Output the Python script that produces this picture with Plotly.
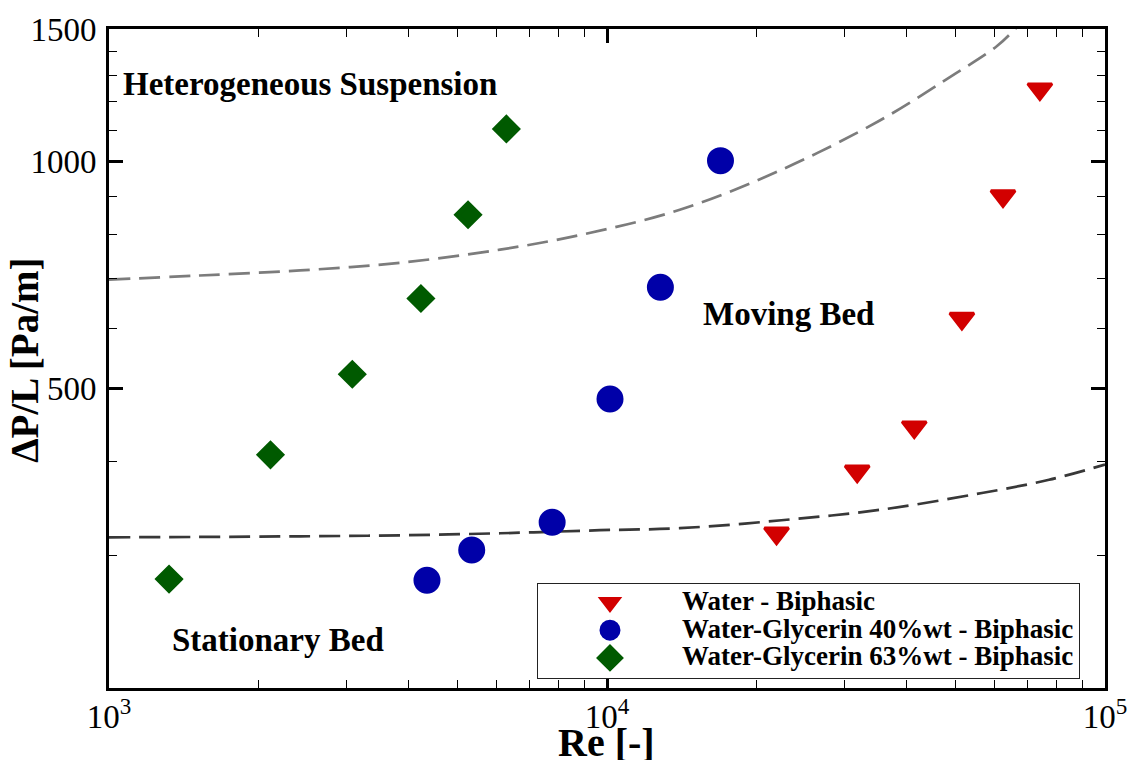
import plotly.graph_objects as go

# ---------------- data ----------------
re_water = [21900, 31800, 41400, 51600, 62400, 74000]
dp_water = [321, 388, 444, 619, 900, 1248]

re_g40 = [4350, 5350, 7760, 10140, 12800, 16900]
dp_g40 = [278, 305, 332, 484, 681, 1003]

re_g63 = [1320, 2110, 3080, 4230, 5260, 6280]
dp_g63 = [279, 408, 522, 658, 850, 1105]

# regime boundary curves
re_upper = [1000, 1520, 2420, 3840, 6100, 8830, 14000, 22300, 35300, 48200, 60700, 66000, 70700]
dp_upper = [697, 706, 717, 734, 764, 799, 863, 974, 1134, 1288, 1424, 1500, 1570]

re_lower = [1000, 2420, 3840, 6100, 9680, 14000, 22400, 35500, 56600, 77200, 100000]
dp_lower = [317, 318, 319, 321, 324, 326, 334, 345, 363, 378, 396]

x_major = [1e3, 1e4, 1e5]
x_major_text = ["10<sup>3</sup>", "10<sup>4</sup>", "10<sup>5</sup>"]
x_minor = [2e3, 3e3, 4e3, 5e3, 6e3, 7e3, 8e3, 9e3, 2e4, 3e4, 4e4, 5e4, 6e4, 7e4, 8e4, 9e4]
y_major = [500, 1000, 1500]
y_major_text = ["500", "1000", "1500"]
y_minor = [300, 400, 600, 700, 800, 900, 1100, 1200, 1300, 1400]

series_names = ["Water - Biphasic",
                "Water-Glycerin 40%wt - Biphasic",
                "Water-Glycerin 63%wt - Biphasic"]

region_labels = ["Heterogeneous Suspension", "Moving Bed", "Stationary Bed"]

FONT = "Liberation Serif, Times New Roman, serif"

fig = go.Figure()

fig.add_trace(go.Scatter(
    x=re_upper, y=dp_upper, mode="lines", showlegend=False, hoverinfo="skip",
    line=dict(color="#7c7c7c", width=2.7, dash="21px,9px", shape="spline", smoothing=1.0)))
fig.add_trace(go.Scatter(
    x=re_lower, y=dp_lower, mode="lines", showlegend=False, hoverinfo="skip",
    line=dict(color="#383838", width=2.7, dash="21px,9px", shape="spline", smoothing=1.0)))

def lg(t):
    return '<span style="font-size:27px">' + t + '</span>'

C_WATER, C_G40, C_G63 = "#d20000", "#0000a8", "#005a00"

fig.add_trace(go.Scatter(
    x=re_water, y=dp_water, mode="markers", name=lg(series_names[0]),
    marker=dict(symbol="triangle-down", size=21, color=C_WATER,
                line=dict(width=3, color=C_WATER))))
fig.add_trace(go.Scatter(
    x=re_g40, y=dp_g40, mode="markers", name=lg(series_names[1]),
    marker=dict(symbol="circle", size=22, color=C_G40,
                line=dict(width=5, color=C_G40))))
fig.add_trace(go.Scatter(
    x=re_g63, y=dp_g63, mode="markers", name=lg(series_names[2]),
    marker=dict(symbol="diamond", size=17, color=C_G63,
                line=dict(width=5, color=C_G63))))

axis_common = dict(
    ticks="inside", ticklen=14, tickwidth=2.5, tickcolor="black",
    showline=True, linewidth=3, linecolor="black", mirror="allticks",
    showgrid=False, zeroline=False,
    tickfont=dict(family=FONT, size=33, color="black"),
)

fig.update_xaxes(
    type="log", range=[3, 5], tickmode="array", tickvals=x_major, ticktext=x_major_text,
    ticklabelstandoff=-3,
    minor=dict(tickmode="array", tickvals=x_minor, ticks="inside", ticklen=8,
               tickwidth=1, tickcolor="black", showgrid=False),
    **axis_common)
fig.update_yaxes(
    type="log", range=[2.30103, 3.176091], tickmode="array", tickvals=y_major, ticktext=y_major_text,
    ticklabelstandoff=3,
    minor=dict(tickmode="array", tickvals=y_minor, ticks="inside", ticklen=8,
               tickwidth=1, tickcolor="black", showgrid=False),
    **axis_common)

ann_font = dict(family=FONT, size=33, color="black", weight="bold")
annotations = [
    dict(text=region_labels[0], x=0.012, y=0.917, xanchor="left", yanchor="middle"),
    dict(text=region_labels[1], x=0.5944, y=0.567, xanchor="left", yanchor="middle"),
    dict(text=region_labels[2], x=0.0612, y=0.0724, xanchor="left", yanchor="middle"),
]
for a in annotations:
    a.update(xref="paper", yref="paper", showarrow=False, font=ann_font)

annotations.append(dict(text="\u0394P/L [Pa/m]", xref="paper", yref="paper",
                        x=-0.0855, y=0.4977, xanchor="center", yanchor="middle",
                        textangle=-90, showarrow=False,
                        font=dict(family=FONT, size=39, color="black", weight="bold")))
annotations.append(dict(text="Re [-]", xref="paper", yref="paper",
                        x=0.4995, y=-0.082, xanchor="center", yanchor="middle",
                        height=36, valign="middle",
                        showarrow=False,
                        font=dict(family=FONT, size=40, color="black", weight="bold")))

fig.update_layout(
    width=1140, height=762,
    margin=dict(l=109, r=35, t=25, b=74),
    paper_bgcolor="white", plot_bgcolor="white",
    font=dict(family=FONT, color="black"),
    annotations=annotations,
    legend=dict(
        x=0.4297, y=0.1599, xanchor="left", yanchor="top",
        bgcolor="white", bordercolor="#222222", borderwidth=1,
        font=dict(family=FONT, size=19, color="black", weight="bold"),
        itemwidth=134, tracegroupgap=0,
    ),
    showlegend=True,
)

fig.write_html("out.html")
